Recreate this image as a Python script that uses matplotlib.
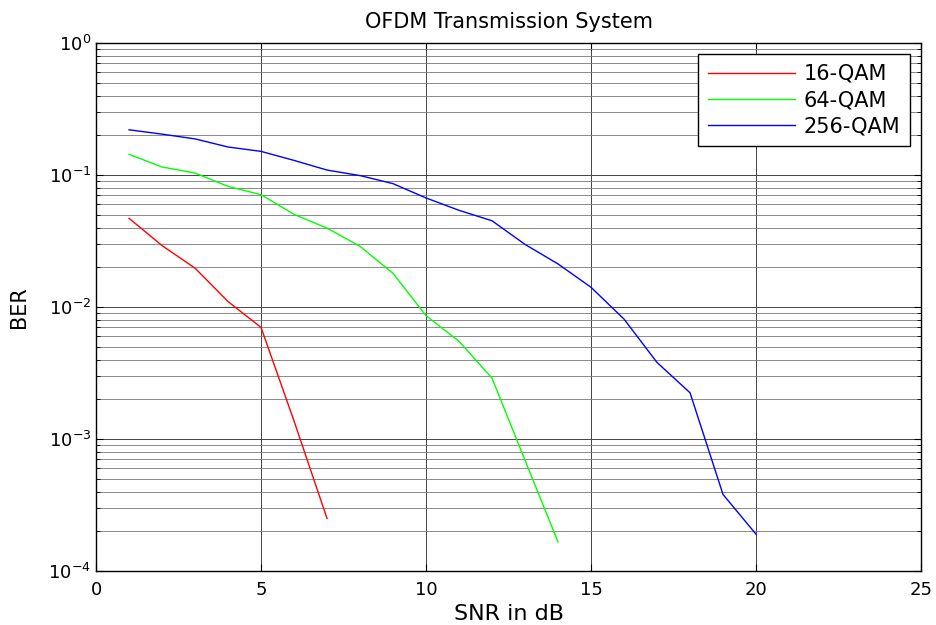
import numpy as np
import matplotlib.pyplot as plt
from matplotlib.ticker import LogLocator, NullFormatter

plt.rcParams['font.family'] = ['DejaVu Sans']

# data
snr_16 = [1, 2, 3, 4, 5, 6, 7]
ber_16 = [0.047, 0.0292, 0.0197, 0.011, 0.0070, 0.00137, 0.00025]

snr_64 = [1, 2, 3, 4, 5, 6, 7, 8, 9, 10, 11, 12, 13, 14]
ber_64 = [0.1436, 0.115, 0.1035, 0.082, 0.071, 0.0503, 0.0396, 0.0288,
          0.018, 0.0086, 0.0055, 0.00289, 0.00069, 0.000166]

snr_256 = [1, 2, 3, 4, 5, 6, 7, 8, 9, 10, 11, 12, 13, 14, 15, 16, 17, 18, 19, 20]
ber_256 = [0.22, 0.204, 0.1877, 0.163, 0.151, 0.129, 0.109, 0.099, 0.086,
           0.067, 0.054, 0.045, 0.0298, 0.0212, 0.0141, 0.0081, 0.0038,
           0.00224, 0.00038, 0.00019]

fig = plt.figure(figsize=(9.36, 6.25), dpi=100)
ax = fig.add_axes([0.1026, 0.0864, 0.8814, 0.8448])

ax.semilogy(snr_16, ber_16, color='#ff0000', lw=1, label='16-QAM')
ax.semilogy(snr_64, ber_64, color='#00ff00', lw=1, label='64-QAM')
ax.semilogy(snr_256, ber_256, color='#0000ff', lw=1, label='256-QAM')

ax.set_xlim(0, 25)
ax.set_ylim(1e-4, 1)
ax.set_xticks([0, 5, 10, 15, 20, 25])
ax.yaxis.set_major_locator(LogLocator(base=10, numticks=10))
ax.yaxis.set_minor_locator(LogLocator(base=10, subs=np.arange(2, 10), numticks=50))
ax.yaxis.set_minor_formatter(NullFormatter())

ax.grid(True, which='major', color='#444444', lw=0.7)
ax.grid(True, which='minor', axis='y', color='#777777', lw=0.6)
ax.tick_params(which='both', direction='in', top=True, right=True, labelsize=13)
ax.tick_params(which='major', length=5)
ax.tick_params(which='minor', length=3)
ax.tick_params(axis='x', pad=7)
for s in ax.spines.values():
    s.set_linewidth(1.0)

ax.set_title('OFDM Transmission System', fontsize=15, pad=11)
ax.set_xlabel('SNR in dB', fontsize=16, labelpad=4)
ax.set_ylabel('BER', fontsize=15, labelpad=14)

leg = ax.legend(loc='upper right', fontsize=15, fancybox=False, framealpha=1,
                edgecolor='black', handlelength=4.2, handletextpad=0.4,
                borderpad=0.45, labelspacing=0.3, borderaxespad=0.55)
leg.get_frame().set_linewidth(1.0)

fig.savefig('out.png', dpi=100)
